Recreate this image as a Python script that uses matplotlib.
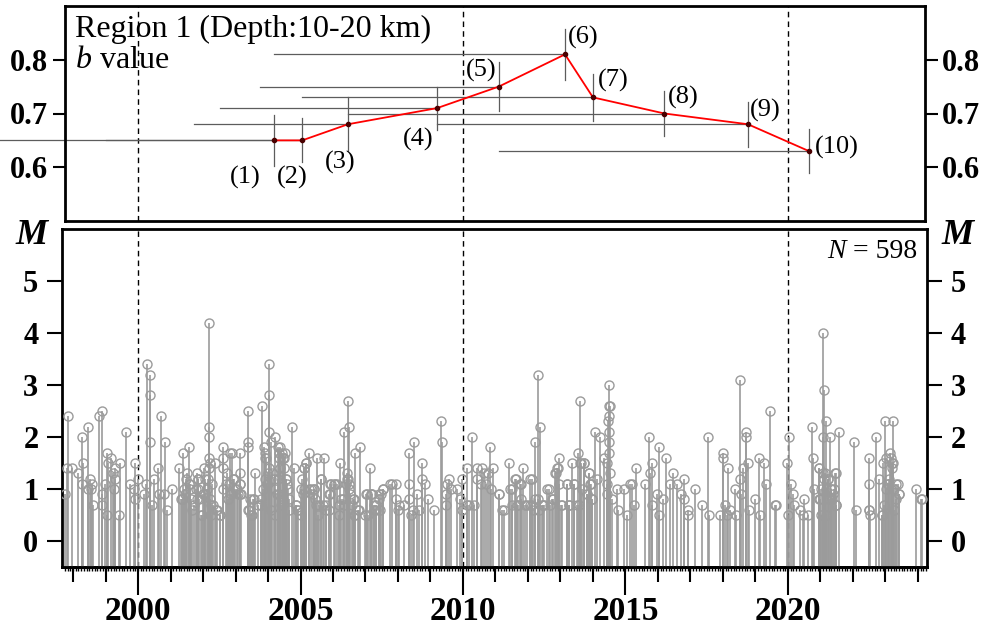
import matplotlib
matplotlib.use("Agg")
import matplotlib.pyplot as plt
import numpy as np

plt.rcParams["font.family"] = ["Liberation Serif", "DejaVu Serif"]
plt.rcParams["mathtext.fontset"] = "custom"
plt.rcParams["mathtext.rm"] = "Liberation Serif"
plt.rcParams["mathtext.it"] = "Liberation Serif:italic"

# ---- b value windows (upper panel) ----
win_start = [1995.75, 1999.0, 2001.72, 2002.52, 2003.75, 2004.18, 2005.05, 2006.46, 2009.2, 2011.1]
win_end = [2004.18, 2005.05, 2006.46, 2009.2, 2011.1, 2013.14, 2014.0, 2016.2, 2018.77, 2020.65]
b_val = [0.65, 0.65, 0.68, 0.71, 0.75, 0.81, 0.73, 0.70, 0.68, 0.63]
b_err = [0.047, 0.041, 0.05, 0.04, 0.045, 0.047, 0.044, 0.042, 0.042, 0.041]
win_labels = ["(1)", "(2)", "(3)", "(4)", "(5)", "(6)", "(7)", "(8)", "(9)", "(10)"]

# ---- events (lower panel): decimal year and magnitude ----
ev_year = [
    1997.76, 1997.83, 1997.81, 1997.97, 1998.14, 1998.28, 1998.31, 1998.28, 1998.45, 1998.45,
    1998.53, 1998.55, 1998.58, 1998.61, 1998.79, 1998.89, 1998.89, 1998.89, 1998.99, 1999.05,
    1999.07, 1999.05, 1999.18, 1999.23, 1999.25, 1999.30, 1999.30, 1999.40, 1999.46, 1999.63,
    1999.76, 1999.90, 1999.89, 1999.92, 1999.99,
    2000.17, 2000.23, 2000.28, 2000.38, 2000.38, 2000.38, 2000.48, 2000.43, 2000.61, 2000.64,
    2000.72, 2000.79, 2000.84, 2000.89, 2001.05, 2001.25, 2001.36, 2001.39, 2001.46, 2001.51,
    2001.58, 2001.61, 2001.66, 2001.71, 2001.82, 2001.84, 2001.84, 2001.82, 2001.97, 2002.02,
    2002.07, 2002.18, 2002.18, 2002.18, 2002.18, 2002.18, 2002.15, 2002.23, 2002.28, 2002.31,
    2002.38, 2002.43, 2002.52, 2002.62, 2002.62, 2002.62, 2002.74, 2002.79, 2002.82, 2002.90,
    2002.95, 2003.05, 2003.15, 2003.15, 2003.15, 2003.15, 2003.38, 2003.38, 2003.38, 2003.41,
    2003.51, 2003.56, 2003.61, 2003.77, 2003.82, 2003.87, 2003.92, 2003.92, 2003.97, 2004.02,
    2004.02, 2004.02, 2004.02, 2004.08, 2004.08, 2004.13, 2004.18, 2004.20, 2004.20, 2004.28,
    2004.33, 2004.36, 2004.38, 2004.44, 2004.47, 2004.49, 2004.51, 2004.54, 2004.59, 2004.64,
    2004.74, 2004.79, 2004.85, 2004.90,
    2005.00, 2005.05, 2005.10, 2005.10, 2005.18, 2005.26, 2005.31, 2005.41, 2005.46, 2005.51,
    2005.56, 2005.62, 2005.72, 2005.77, 2005.87, 2005.92, 2005.92, 2006.06, 2006.13, 2006.18,
    2006.21, 2006.33, 2006.31, 2006.42, 2006.47, 2006.49, 2006.44, 2006.49, 2006.52, 2006.59,
    2006.64, 2006.67, 2006.69, 2006.80, 2006.83, 2007.00, 2007.05, 2007.14, 2007.16, 2007.21,
    2007.26, 2007.31, 2007.41, 2007.46, 2007.55, 2007.75, 2007.82, 2007.93, 2007.93, 2008.01,
    2008.03, 2008.18, 2008.34, 2008.34, 2008.34, 2008.39, 2008.49, 2008.47, 2008.59, 2008.64,
    2008.73, 2008.75, 2008.82, 2008.93, 2009.11, 2009.31, 2009.36, 2009.47, 2009.52, 2009.47,
    2009.57, 2009.62, 2009.83, 2009.91, 2009.98, 2009.98,
    2010.13, 2010.11, 2010.18, 2010.29, 2010.34, 2010.42, 2010.44, 2010.54, 2010.60, 2010.65,
    2010.70, 2010.77, 2010.83, 2010.85, 2010.93, 2011.11, 2011.26, 2011.43, 2011.50, 2011.63,
    2011.68, 2011.79, 2011.84, 2011.79, 2011.97, 2012.07, 2012.11, 2012.19, 2012.22, 2012.32,
    2012.38, 2012.30, 2012.45, 2012.50, 2012.65, 2012.76, 2012.86, 2012.91, 2012.96, 2012.96,
    2013.01, 2013.21, 2013.27, 2013.35, 2013.42, 2013.54, 2013.59, 2013.62, 2013.67, 2013.72,
    2013.57, 2013.81, 2013.88, 2013.93, 2013.98, 2014.05, 2014.11, 2014.21, 2014.34, 2014.42,
    2014.49, 2014.49, 2014.52, 2014.49, 2014.46, 2014.49, 2014.49, 2014.49, 2014.44, 2014.52,
    2014.44, 2014.59, 2014.74, 2014.77, 2014.95,
    2015.05, 2015.13, 2015.20, 2015.26, 2015.31, 2015.61, 2015.71, 2015.77, 2015.82, 2015.82,
    2015.97, 2016.02, 2016.02, 2016.15, 2016.26, 2016.38, 2016.46, 2016.58, 2016.70, 2016.79,
    2016.81, 2016.91, 2016.91, 2017.14, 2017.35, 2017.55, 2017.58, 2017.91, 2017.99, 2018.01,
    2018.06, 2018.16, 2018.11, 2018.21, 2018.37, 2018.40, 2018.52, 2018.54, 2018.57, 2018.62,
    2018.70, 2018.72, 2018.78, 2018.81, 2018.98, 2019.11, 2019.13, 2019.26, 2019.34, 2019.46,
    2019.59, 2019.64, 2019.97,
    2020.03, 2020.00, 2020.10, 2020.15, 2020.20, 2020.36, 2020.51, 2020.46, 2020.61, 2020.74,
    2020.77, 2020.79, 2020.95, 2020.97, 2021.09, 2021.10, 2021.17, 2021.07, 2021.15, 2021.22,
    2021.30, 2021.33, 2021.38, 2021.46, 2021.48, 2021.56, 2022.04, 2022.09, 2022.50, 2022.48,
    2022.50, 2022.52, 2022.70, 2022.81, 2022.89, 2022.93, 2022.98, 2023.03, 2023.09, 2023.13,
    2023.19, 2023.24, 2023.21, 2023.27, 2023.32, 2023.42, 2023.95, 2024.11, 2024.13,
]
ev_mag = [
    0.9, 2.4, 1.4, 1.4, 1.3, 2.0, 1.5, 1.1, 2.2, 1.0,
    1.2, 1.0, 1.1, 0.7, 2.4, 2.5, 0.7, 0.9, 1.1, 1.7,
    1.5, 0.5, 1.6, 1.3, 1.0, 1.4, 1.2, 0.5, 1.5, 2.1,
    1.1, 1.5, 1.0, 0.8, 1.2,
    0.9, 1.1, 3.4, 3.2, 2.8, 1.9, 1.2, 0.7, 1.4, 0.9,
    2.4, 0.9, 1.9, 0.6, 1.0, 1.4, 0.8, 1.7, 0.9, 1.3,
    1.8, 1.1, 0.6, 0.7, 1.3, 1.2, 1.0, 0.8, 0.5, 1.4,
    0.9, 4.2, 2.2, 2.0, 1.6, 1.4, 1.2, 1.5, 1.1, 0.7,
    1.5, 0.6, 0.5, 1.8, 1.6, 1.4, 1.3, 1.1, 1.7, 1.7,
    1.2, 1.0, 1.7, 1.3, 1.1, 0.9, 2.5, 1.9, 1.8, 0.6,
    0.5, 0.8, 1.3, 0.7, 2.6, 1.8, 1.6, 1.7, 1.1, 3.4,
    2.8, 2.1, 1.4, 1.9, 0.6, 1.3, 1.2, 2.0, 0.5, 0.9,
    1.6, 1.8, 1.4, 1.7, 0.8, 1.6, 1.7, 1.2, 1.1, 0.6,
    2.2, 1.4, 0.7, 0.6,
    0.5, 1.2, 1.4, 1.0, 1.5, 1.7, 1.0, 1.0, 0.8, 1.6,
    0.7, 1.2, 1.6, 0.7, 0.6, 1.1, 0.9, 1.1, 1.1, 0.5,
    1.5, 2.1, 0.8, 1.3, 2.7, 2.2, 1.2, 1.1, 0.9, 0.7,
    0.8, 1.7, 0.5, 0.6, 1.8, 0.5, 0.9, 1.4, 0.9, 0.9,
    0.6, 0.7, 0.9, 0.6, 1.0, 1.1, 1.1, 1.1, 0.8, 0.6,
    0.7, 0.7, 1.7, 1.1, 0.8, 0.5, 1.9, 0.6, 0.9, 0.6,
    1.5, 1.2, 1.1, 0.8, 0.6, 2.3, 1.9, 0.9, 1.1, 0.7,
    1.2, 1.0, 1.0, 0.8, 1.2, 0.6,
    1.4, 0.7, 0.7, 2.0, 0.7, 1.4, 1.2, 1.1, 1.4, 1.3,
    1.1, 1.3, 1.8, 1.0, 1.4, 0.9, 0.6, 1.5, 1.0, 1.2,
    0.7, 1.1, 1.4, 0.8, 0.7, 0.7, 1.2, 0.6, 1.9, 3.2,
    2.2, 0.8, 0.7, 0.7, 1.0, 0.8, 1.3, 1.4, 1.6, 1.1,
    0.7, 1.1, 0.7, 1.5, 1.1, 1.7, 2.7, 1.5, 1.0, 1.5,
    0.7, 0.9, 1.3, 1.1, 0.8, 2.1, 1.2, 2.0, 1.6, 0.9,
    3.0, 2.6, 2.6, 2.4, 2.3, 2.1, 1.9, 1.7, 1.5, 1.3,
    1.1, 0.8, 1.0, 0.6, 1.0,
    0.5, 1.1, 1.1, 0.7, 1.4, 1.1, 2.0, 1.3, 1.5, 0.7,
    0.9, 1.8, 0.5, 0.8, 1.6, 1.1, 1.3, 1.1, 0.9, 1.2,
    0.8, 0.6, 0.5, 1.0, 0.7, 2.0, 0.5, 0.5, 1.7, 1.6,
    0.7, 1.4, 0.5, 0.6, 1.0, 0.5, 1.2, 3.1, 0.9, 1.4,
    2.1, 2.0, 1.5, 0.6, 0.8, 1.6, 0.5, 1.5, 1.1, 2.5,
    0.7, 0.7, 1.5,
    2.0, 0.5, 1.1, 0.9, 0.7, 0.6, 0.8, 0.5, 0.5, 2.2,
    1.6, 1.0, 1.4, 0.8, 4.0, 2.9, 2.3, 2.0, 1.3, 1.2,
    2.0, 1.0, 0.9, 1.3, 0.7, 2.1, 1.9, 0.6, 1.6, 1.1,
    0.6, 0.5, 2.0, 1.2, 0.5, 1.5, 2.3, 1.6, 1.1, 1.7,
    1.5, 2.3, 1.4, 0.6, 1.1, 0.9, 1.0, 0.8, 0.8,
]
# smaller events packed inside the dense swarms (read from close-ups)
dense_year = [
    2001.33, 2001.42, 2001.49, 2001.56, 2001.59, 2001.64, 2001.79, 2001.85, 2001.87, 2001.95,
    2002.00, 2002.05, 2002.13, 2002.20, 2002.26, 2002.26, 2002.41, 2002.51, 2002.62, 2002.72,
    2002.77, 2002.87, 2002.92, 2002.97, 2003.08, 2003.13, 2003.16, 2003.38, 2003.44, 2003.49,
    2003.54, 2003.69, 2003.78, 2003.85, 2003.90, 2003.95, 2004.00, 2004.10, 2004.20,
    2004.30, 2004.35, 2004.45, 2004.50, 2004.55, 2004.61, 2004.66, 2004.30, 2004.35, 2004.40,
    2004.86, 2004.91, 2005.02, 2005.07, 2005.12, 2005.17, 2005.27, 2005.37, 2005.43, 2005.48,
    2005.53, 2005.63, 2005.68, 2005.78, 2005.89, 2005.94, 2006.04, 2006.19, 2006.25, 2006.35,
    2006.40, 2006.45, 2006.50, 2006.61, 2006.66, 2006.76, 2007.02, 2007.07, 2007.17, 2007.27,
    2007.32, 2007.42, 2007.48, 2007.53,
    2011.10, 2011.20, 2011.46, 2011.51, 2011.61, 2011.66, 2011.76, 2011.92, 2012.07, 2012.12,
    2012.23, 2012.33, 2012.43, 2012.58, 2012.69, 2012.74, 2012.84, 2012.89, 2013.05, 2013.20,
    2013.25, 2013.41, 2013.51, 2013.61, 2013.71, 2013.82, 2013.87, 2013.92, 2013.97,
    2020.96, 2021.02, 2020.98, 2021.07, 2021.12, 2021.17, 2021.22, 2021.27, 2021.32, 2021.37,
    2021.42, 2021.48, 2021.48, 2021.02, 2021.17, 2022.50, 2022.91, 2022.96, 2023.02, 2023.07,
    2023.12, 2023.17, 2023.22, 2023.27, 2023.32, 2023.38, 2023.42,
]
dense_mag = [
    0.8, 1.0, 1.2, 1.1, 1.0, 0.8, 1.0, 1.2, 0.8, 0.5,
    0.9, 1.2, 1.0, 0.8, 0.7, 0.5, 0.6, 0.5, 1.0, 1.1,
    0.8, 0.9, 1.2, 1.0, 0.9, 1.1, 0.9, 0.6, 0.8, 0.5,
    0.8, 0.7, 0.8, 1.0, 1.2, 1.6, 1.3, 1.2, 1.0,
    1.8, 1.7, 1.6, 1.4, 1.2, 1.0, 0.8, 1.2, 0.9, 0.7,
    0.7, 0.6, 1.0, 0.9, 1.4, 1.5, 1.0, 0.9, 1.0, 0.7,
    0.5, 1.2, 0.7, 0.6, 0.9, 1.1, 1.1, 0.7, 0.8, 0.7,
    1.1, 1.2, 1.0, 0.8, 0.5, 0.6, 0.9, 0.5, 0.9, 0.7,
    0.6, 0.8, 0.9, 1.0,
    0.9, 0.6, 1.0, 0.7, 1.2, 0.7, 1.1, 0.7, 1.2, 0.7,
    0.8, 0.6, 0.7, 1.0, 0.7, 0.8, 1.3, 1.4, 0.7, 1.1,
    0.7, 1.1, 0.7, 1.5, 1.5, 0.9, 1.3, 1.1, 0.8,
    1.4, 1.0, 0.8, 1.3, 1.2, 1.0, 1.2, 0.8, 1.0, 0.8,
    1.0, 1.3, 0.7, 0.5, 0.5, 0.6, 0.5, 0.7, 1.0, 1.1,
    1.2, 1.6, 1.5, 1.0, 0.8, 1.1, 0.9,
]
n_events = 598
decades = [2000, 2010, 2020]
major_years = [2000, 2005, 2010, 2015, 2020]
b_ticks = [0.6, 0.7, 0.8]
m_ticks = [0, 1, 2, 3, 4, 5]

W, H = 982, 630
fig = plt.figure(figsize=(W / 100, H / 100), dpi=100)
ax1 = fig.add_axes([65 / W, 1 - 221 / H, 860 / W, 215 / H])
ax2 = fig.add_axes([62 / W, 1 - 567 / H, 865 / W, 338 / H])

grey_line = "#5c5c5c"
stem = "#9b9b9b"

# ---- upper panel ----
for i in range(len(b_val)):
    ax1.plot([win_start[i], win_end[i]], [b_val[i], b_val[i]], color=grey_line, lw=0.9,
             clip_on=(i != 0), zorder=2)
    ax1.plot([win_end[i], win_end[i]], [b_val[i] - b_err[i], b_val[i] + b_err[i]],
             color=grey_line, lw=0.9, zorder=2)
ax1.plot(win_end, b_val, color="red", lw=1.3, zorder=3)
ax1.plot(win_end, b_val, "o", ms=3, color="#4a0000", zorder=4)

lab_off = [(-29, -37), (-10, -37), (-8, -38), (-19, -31), (-18, 16),
           (18, 17), (20, 17), (19, 16), (17, 14), (28, 4)]
for x, y, lab, off in zip(win_end, b_val, win_labels, lab_off):
    ax1.annotate(lab, (x, y), xytext=off, textcoords="offset pixels",
                 ha="center", va="center", fontsize=19)

ax1.set_xlim(1997.75, 2024.22)
ax1.set_ylim(0.5, 0.9)
ax1.set_xticks([])
ax1.set_yticks(b_ticks)
ax1.set_yticklabels([f"{v:.1f}" for v in b_ticks])
ax1.tick_params(axis="y", left=True, right=True, labelleft=True, labelright=True,
                direction="out", length=9, width=1.5, labelsize=22, pad=3)
for t in ax1.get_yticklabels():
    t.set_fontweight("bold")

ax1.text(10 / 860, 1 - 31 / 215, "Region 1 (Depth:10-20 km)", transform=ax1.transAxes,
         fontsize=23, va="baseline", ha="left")
ax1.text(10 / 860, 1 - 62 / 215, "$b$ value", transform=ax1.transAxes,
         fontsize=23, va="baseline", ha="left")

# ---- lower panel ----
all_year = ev_year + dense_year
all_mag = ev_mag + dense_mag
ax2.vlines(all_year, -0.5, all_mag, color=stem, lw=1.2, zorder=2)
ax2.plot(all_year, all_mag, "o", ms=6.5, mfc="none", mec=stem, mew=1.0, zorder=3)

ax2.set_xlim(1997.66, 2024.28)
ax2.set_ylim(-0.5, 6.0)
ax2.set_yticks(m_ticks)
ax2.set_yticklabels([str(v) for v in m_ticks])
ax2.tick_params(axis="y", left=True, right=True, labelleft=True, labelright=True,
                direction="out", length=11, width=1.5, labelsize=22, pad=6)
ax2.set_xticks(major_years)
ax2.set_xticklabels([str(v) for v in major_years])
ax2.set_xticks(np.arange(1998, 2025), minor=True)
ax2.tick_params(axis="x", which="major", direction="out", length=20, width=1.5,
                labelsize=24, pad=1)
ax2.tick_params(axis="x", which="minor", direction="out", length=11, width=1.5)
for t in ax2.get_xticklabels() + ax2.get_yticklabels():
    t.set_fontweight("bold")

# monthly marks along the time axis
sec = ax2.secondary_xaxis("bottom")
sec.set_xticks(np.arange(1997.75, 2024.26, 1 / 12))
sec.tick_params(axis="x", direction="out", length=3, width=1.0, labelbottom=False)
sec.spines["bottom"].set_linewidth(2)

n_txt = ax2.text(1 - 10 / 865, 1 - 29 / 338, f" = {n_events}",
                 transform=ax2.transAxes, ha="right", va="baseline", fontsize=20)
ax2.annotate("N", xy=(0, 0), xycoords=n_txt, xytext=(0, 0), textcoords="offset pixels",
             ha="right", va="bottom", fontsize=20, fontstyle="italic")
fig.text(32 / W, 1 - 244 / H, "M", fontsize=26, fontweight="bold", fontstyle="italic",
         ha="center", va="baseline")
fig.text(958 / W, 1 - 244 / H, "M", fontsize=26, fontweight="bold", fontstyle="italic",
         ha="center", va="baseline")

for ax in (ax1, ax2):
    for yr in decades:
        ax.axvline(yr, color="black", lw=1.0, ls=(0, (4, 3)), zorder=1)
    for s in ax.spines.values():
        s.set_linewidth(2)

fig.savefig("out.png", dpi=100)
